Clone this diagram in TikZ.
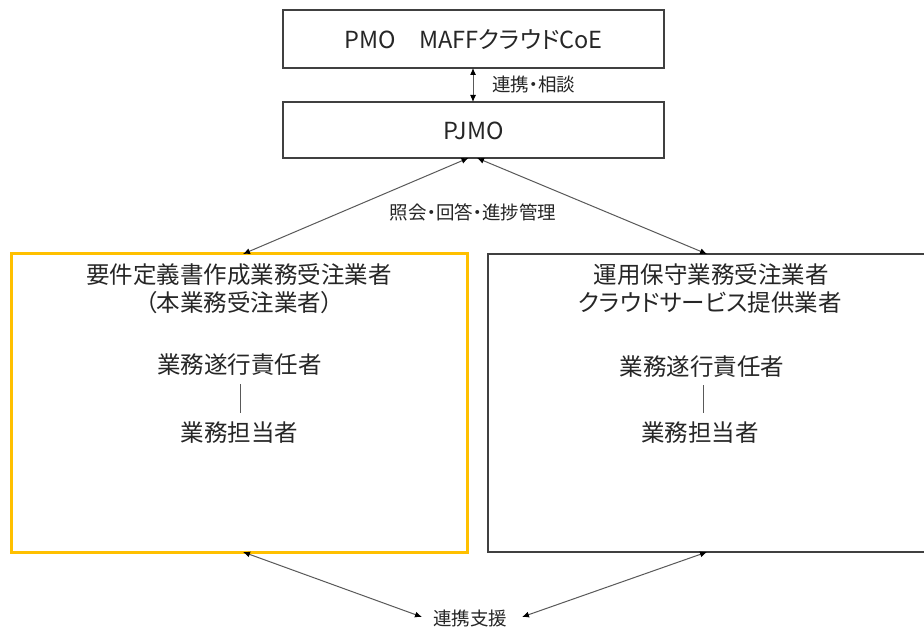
\documentclass[tikz,border=0pt]{standalone}
\usepackage{fontspec}
\setmainfont[RawFeature=+palt]{Noto Sans CJK JP}
\newfontfamily\lblfont[RawFeature=+palt]{Noto Sans CJK JP}
\usetikzlibrary{arrows.meta}
\definecolor{txtc}{HTML}{262626}
\definecolor{boxc}{HTML}{404040}
\definecolor{arrc}{HTML}{595959}
\definecolor{yel}{HTML}{FFC000}
\tikzset{
  plainbox/.style={draw=boxc, line width=1.3pt, fill=white},
  yelbox/.style={draw=yel, line width=3pt, fill=white},
  boxtext/.style={text=txtc, font=\fontsize{23.5pt}{28pt}\selectfont, inner sep=0pt, align=center},
  lbl/.style={text=txtc, font=\lblfont\fontsize{18.5pt}{22pt}\selectfont, inner sep=0pt},
  conn/.style={draw=arrc, line width=1pt, {Latex[length=7pt,width=6pt,color=black]}-{Latex[length=7pt,width=6pt,color=black]}},
  tie/.style={draw=arrc, line width=1pt}
}
\begin{document}
\begin{tikzpicture}[x=1pt,y=-1pt]
\useasboundingbox[fill=white] (0,0) rectangle (924,628);
% boxes
\node[plainbox, minimum width=381pt, minimum height=58pt, inner sep=0pt] (pmo) at (473.5,39) {};
\node[boxtext] (pmot) at (473.5,40) {PMO　MAFFクラウドCoE};
\node[plainbox, minimum width=381pt, minimum height=56pt, inner sep=0pt] (pjmo) at (473.5,130) {};
\node[boxtext] (pjmot) at (473.5,131) {PJMO};
\node[yelbox, minimum width=456pt, minimum height=298pt, inner sep=0pt] (lbox) at (239,403) {};
\node[plainbox, minimum width=447pt, minimum height=298pt, inner sep=0pt] (rbox) at (711.5,403) {};
% left box texts
\node[boxtext] (l1) at (239,275) {要件定義書作成業務受注業者};
\node[boxtext] (l2) at (239,303) {（本業務受注業者）};
\node[boxtext] (l3) at (239.5,365) {業務遂行責任者};
\node[boxtext] (l4) at (239.5,433) {業務担当者};
\draw[tie] (240,384) -- (240,413);
% right box texts
\node[boxtext] (r1) at (711,275) {運用保守業務受注業者};
\node[boxtext] (r2) at (710,303) {クラウドサービス提供業者};
\node[boxtext] (r3) at (702,367) {業務遂行責任者};
\node[boxtext] (r4) at (700,433) {業務担当者};
\draw[tie] (703,385) -- (703,413);
% coordinates for connector ends
\coordinate (pmoS) at (473,68);
\coordinate (pjmoN) at (473,102);
\coordinate (pjmoSL) at (468.5,158);
\coordinate (pjmoSR) at (477,158);
\coordinate (lN) at (243,254);
\coordinate (rN) at (707,254);
\coordinate (lS) at (243,552);
\coordinate (rS) at (707,552);
% labels
\node[lbl, anchor=west] (lab1) at (492,84) {連携・相談};
\node[lbl] (lab2) at (473,212) {照会・回答・進捗管理};
\node[lbl] (lab3) at (470,618) {連携支援};
\coordinate (lab3W) at (422,617);
\coordinate (lab3E) at (522,617);
% connectors
\draw[conn] (pmoS) -- (pjmoN);
\draw[conn] (pjmoSL) -- (lN);
\draw[conn] (pjmoSR) -- (rN);
\draw[conn] (lS) -- (lab3W);
\draw[conn] (rS) -- (lab3E);
\end{tikzpicture}
\end{document}
